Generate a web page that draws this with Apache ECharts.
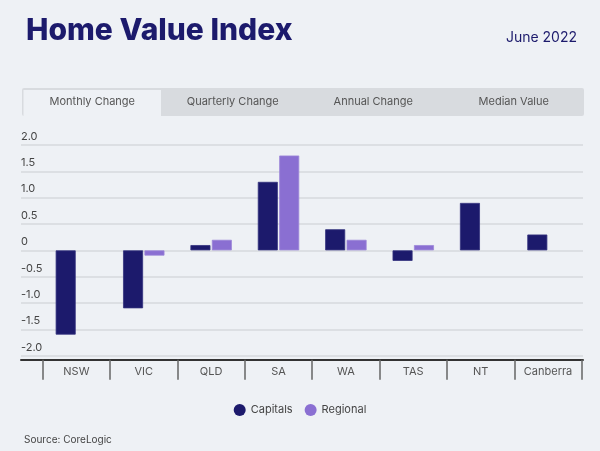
<!DOCTYPE html>
<html>
<head>
<meta charset="utf-8">
<script src="https://cdn.jsdelivr.net/npm/echarts@6/dist/echarts.min.js"></script>
<style>
  html, body { margin: 0; padding: 0; background: #eef1f5; }
  #chart { width: 600px; height: 451px; }
</style>
</head>
<body>
<div id="chart"></div>
<script>
const categories = ['NSW', 'VIC', 'QLD', 'SA', 'WA', 'TAS', 'NT', 'Canberra'];
const capitals = [-1.6, -1.1, 0.1, 1.3, 0.4, -0.2, 0.9, 0.3];
const regional = [null, -0.1, 0.2, 1.8, 0.2, 0.1, null, null];
const seriesNames = ['Capitals', 'Regional'];
const tabLabels = ['Monthly Change', 'Quarterly Change', 'Annual Change', 'Median Value'];
const yMin = -2, yMax = 2, yStep = 0.5;

const FONT = 'Inter, "Open Sans", sans-serif';
const NAVY = '#1c1a6c';
const PURPLE = '#8a6fd2';

const chart = echarts.init(document.getElementById('chart'), null, { renderer: 'canvas' });

const tabLeft = 22, tabRight = 584, tabTop = 88, tabBottom = 116;
const tabW = (tabRight - tabLeft) / tabLabels.length;
const graphics = [
  { type: 'rect', shape: { x: tabLeft, y: tabTop, width: tabRight - tabLeft, height: tabBottom - tabTop, r: 2 },
    style: { fill: '#d8dbdf' }, z: 0 },
  { type: 'rect', shape: { x: tabLeft + 1.5, y: tabTop + 2, width: tabW - 3, height: tabBottom - tabTop - 2 },
    style: { fill: '#eef1f5' }, z: 1 }
];
tabLabels.forEach((t, i) => {
  graphics.push({ type: 'text', x: tabLeft + tabW * (i + 0.5), y: 102, z: 2,
    style: { text: t, fill: '#555', font: '400 11px ' + FONT, textAlign: 'center', textVerticalAlign: 'middle' } });
});
graphics.push({ type: 'text', x: 24, y: 440, style: { text: 'Source: CoreLogic', fill: '#444', font: '400 10px ' + FONT, textVerticalAlign: 'middle' } });

const option = {
  backgroundColor: '#eef1f5',
  animation: false,
  title: [
    { text: 'Home Value Index', left: 21, top: 11,
      textStyle: { color: NAVY, fontFamily: FONT, fontWeight: 800, fontSize: 30 } },
    { text: 'June 2022', right: 18, top: 26,
      textStyle: { color: NAVY, fontFamily: FONT, fontWeight: 400, fontSize: 14 } }
  ],
  graphic: graphics,
  legend: {
    data: seriesNames,
    top: 399, left: 'center',
    icon: 'circle', itemWidth: 12, itemHeight: 12, itemGap: 12,
    itemStyle: { borderWidth: 0 },
    textStyle: { color: '#444', fontFamily: FONT, fontSize: 11 }
  },
  grid: [
    { left: 21, right: 17, top: 145, bottom: 95.3 },
    { left: 42.7, right: 18.3, top: 145, bottom: 95.3 }
  ],
  xAxis: [
    { gridIndex: 0, type: 'category', data: [''], offset: 4,
      axisLine: { show: true, onZero: false, lineStyle: { color: '#333', width: 2 } },
      axisTick: { show: false }, axisLabel: { show: false }, splitLine: { show: false } },
    { gridIndex: 1, type: 'category', data: categories, offset: 4,
      axisLine: { show: false, onZero: false },
      axisTick: { show: true, length: 20, lineStyle: { color: '#666', width: 1.5 } },
      axisLabel: { color: '#555', fontFamily: FONT, fontSize: 11, margin: 6 } }
  ],
  yAxis: [
    { gridIndex: 0, type: 'value', min: yMin, max: yMax, interval: yStep,
      axisLine: { show: false }, axisTick: { show: false },
      splitLine: { lineStyle: { color: '#d6d9dd', width: 1.5 } },
      axisLabel: { inside: true, margin: 0, align: 'left', verticalAlign: 'bottom', padding: [0, 0, 3, 0],
        color: '#444', fontFamily: FONT, fontSize: 11,
        formatter: v => v === 0 ? '0' : v.toFixed(1) } },
    { gridIndex: 1, type: 'value', min: yMin, max: yMax, interval: yStep, show: false,
      splitLine: { show: false } }
  ],
  series: [
    { name: seriesNames[0], type: 'bar', xAxisIndex: 1, yAxisIndex: 1, data: capitals,
      barWidth: 20, barGap: '7%',
      itemStyle: { color: NAVY, borderColor: '#34327e', borderWidth: 0.8 } },
    { name: seriesNames[1], type: 'bar', xAxisIndex: 1, yAxisIndex: 1, data: regional,
      barWidth: 20, barGap: '7%',
      itemStyle: { color: PURPLE, borderColor: '#9c86d8', borderWidth: 0.8 } }
  ]
};
chart.setOption(option);
</script>
</body>
</html>
